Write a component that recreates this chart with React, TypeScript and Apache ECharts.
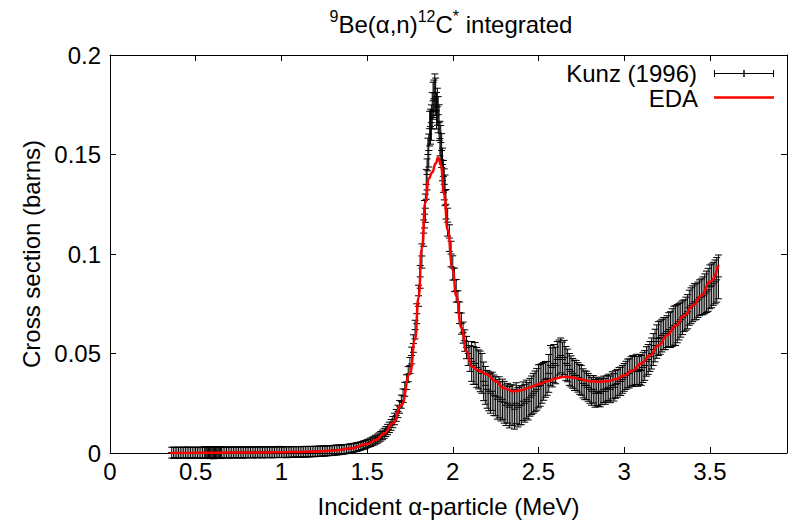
import React, { useEffect, useRef } from "react";
import * as echarts from "echarts";

const FONT = '"Liberation Sans", Arial, Helvetica, sans-serif';

// Kunz (1996) — low-energy part (MeV, barns, barns)
const lowE = [0.36, 0.37, 0.38, 0.39, 0.40, 0.41, 0.42, 0.43, 0.44, 0.45,
  0.46, 0.47, 0.48, 0.49, 0.50, 0.51, 0.52, 0.53, 0.54, 0.55,
  0.56, 0.57, 0.58, 0.59, 0.60, 0.61, 0.62, 0.63, 0.64, 0.65,
  0.66, 0.67, 0.68, 0.69, 0.70, 0.71, 0.72, 0.73, 0.74, 0.75,
  0.76, 0.77, 0.78, 0.79, 0.80, 0.81, 0.82, 0.83, 0.84, 0.85,
  0.86, 0.87, 0.88, 0.89, 0.90, 0.91, 0.92, 0.93, 0.94, 0.95,
  0.96, 0.97, 0.98, 0.99,
  1.00, 1.01, 1.02, 1.03, 1.04, 1.05, 1.06, 1.07, 1.08, 1.09,
  1.10, 1.11, 1.12, 1.13, 1.14, 1.15, 1.16, 1.17, 1.18, 1.19,
  1.20, 1.21, 1.22, 1.23, 1.24, 1.25, 1.26, 1.27, 1.28, 1.29,
  1.30, 1.31, 1.32, 1.33, 1.34, 1.35, 1.36, 1.37, 1.38, 1.39,
  1.40, 1.41, 1.42, 1.43, 1.44, 1.45, 1.46, 1.47, 1.48, 1.49];
const lowSigma = [0.0002, 0.0001, 0.0002, 0.0001, 0.0002, 0.0001, 0.0002, 0.0002, 0.0001, 0.0002,
  0.0002, 0.0001, 0.0002, 0.0002, 0.0001, 0.0002, 0.0001, 0.0002, 0.0001, 0.0002,
  0.0002, 0.0003, 0.0002, 0.0001, 0.0003, 0.0002, 0.0002, 0.0003, 0.0002, 0.0002,
  0.0002, 0.0003, 0.0002, 0.0003, 0.0002, 0.0003, 0.0003, 0.0002, 0.0003, 0.0003,
  0.0003, 0.0002, 0.0003, 0.0003, 0.0003, 0.0003, 0.0004, 0.0003, 0.0003, 0.0004,
  0.0003, 0.0004, 0.0004, 0.0003, 0.0004, 0.0004, 0.0004, 0.0004, 0.0003, 0.0004,
  0.0004, 0.0004, 0.0004, 0.0005,
  0.0004, 0.0004, 0.0005, 0.0004, 0.0005, 0.0005, 0.0005, 0.0006, 0.0005, 0.0006,
  0.0005, 0.0006, 0.0006, 0.0006, 0.0007, 0.0006, 0.0007, 0.0007, 0.0008, 0.0007,
  0.0008, 0.0008, 0.0009, 0.0009, 0.0010, 0.0010, 0.0011, 0.0011, 0.0012, 0.0012,
  0.0013, 0.0014, 0.0015, 0.0015, 0.0016, 0.0017, 0.0018, 0.0019, 0.0020, 0.0021,
  0.0023, 0.0024, 0.0026, 0.0028, 0.0030, 0.0032, 0.0034, 0.0037, 0.0040, 0.0043];
const lowErr = [0.0027, 0.0028, 0.0026, 0.0027, 0.0028, 0.0027, 0.0026, 0.0028, 0.0027, 0.0028,
  0.0027, 0.0028, 0.0026, 0.0027, 0.0028, 0.0027, 0.0026, 0.0028, 0.0027, 0.0029,
  0.0027, 0.0028, 0.0026, 0.0029, 0.0028, 0.0027, 0.0029, 0.0028, 0.0027, 0.0028,
  0.0027, 0.0028, 0.0027, 0.0026, 0.0028, 0.0027, 0.0028, 0.0027, 0.0026, 0.0028,
  0.0027, 0.0028, 0.0027, 0.0028, 0.0027, 0.0026, 0.0027, 0.0028, 0.0027, 0.0026,
  0.0028, 0.0027, 0.0026, 0.0028, 0.0027, 0.0028, 0.0027, 0.0026, 0.0027, 0.0028,
  0.0027, 0.0026, 0.0027, 0.0028,
  0.0027, 0.0026, 0.0027, 0.0028, 0.0027, 0.0026, 0.0027, 0.0026, 0.0027, 0.0026,
  0.0027, 0.0026, 0.0027, 0.0026, 0.0026, 0.0027, 0.0026, 0.0026, 0.0025, 0.0026,
  0.0026, 0.0025, 0.0026, 0.0025, 0.0025, 0.0026, 0.0025, 0.0025, 0.0024, 0.0025,
  0.0025, 0.0024, 0.0025, 0.0024, 0.0024, 0.0023, 0.0024, 0.0023, 0.0023, 0.0022,
  0.0023, 0.0022, 0.0022, 0.0021, 0.0022, 0.0021, 0.0021, 0.0020, 0.0021, 0.0020];

// Kunz (1996) — second, overlapping set of low-energy points
const extraE = [0.555, 0.565, 0.575, 0.585, 0.595, 0.605, 0.615, 0.625, 0.635, 0.645];
const extraSigma = [0.0003, 0.0001, 0.0002, 0.0003, 0.0002, 0.0001, 0.0003, 0.0002, 0.0003, 0.0002];
const extraErr = [0.0029, 0.0028, 0.0030, 0.0029, 0.0028, 0.0030, 0.0029, 0.0028, 0.0029, 0.0030];

// Kunz (1996) — resonance region
const peakE = [1.50, 1.51, 1.52, 1.53, 1.54, 1.55, 1.56, 1.57, 1.58, 1.59,
  1.60, 1.61, 1.62, 1.63, 1.64, 1.65, 1.66, 1.67, 1.68, 1.69,
  1.70, 1.71, 1.72, 1.73, 1.74, 1.75, 1.76, 1.77, 1.78, 1.79,
  1.80, 1.81, 1.82, 1.83, 1.835, 1.84, 1.845, 1.85, 1.855, 1.86, 1.865, 1.87, 1.875, 1.88, 1.885, 1.89, 1.895,
  1.90, 1.905, 1.91, 1.915, 1.92, 1.925, 1.93, 1.935, 1.94, 1.945, 1.95, 1.955, 1.96, 1.97, 1.98, 1.99,
  2.00, 2.01, 2.02, 2.03, 2.04, 2.05, 2.06, 2.07, 2.08, 2.09, 2.10];
const peakSigma = [0.0047, 0.0050, 0.0054, 0.0058, 0.0062, 0.0067, 0.0072, 0.0078, 0.0084, 0.0091,
  0.0099, 0.0108, 0.0118, 0.0129, 0.0141, 0.0155, 0.0171, 0.0189, 0.0209, 0.0232,
  0.0258, 0.0288, 0.0320, 0.0356, 0.0396, 0.0440, 0.0490, 0.0550, 0.0620, 0.0700,
  0.0790, 0.0885, 0.0990, 0.1105, 0.1200, 0.1230, 0.1350, 0.1400, 0.1500, 0.1520, 0.1630, 0.1640, 0.1660, 0.1720, 0.1770, 0.1780, 0.1810,
  0.1790, 0.1720, 0.1740, 0.1700, 0.1660, 0.1580, 0.1560, 0.1520, 0.1450, 0.1390, 0.1350, 0.1320, 0.1250, 0.1160, 0.1080, 0.1000,
  0.0930, 0.0870, 0.0815, 0.0760, 0.0705, 0.0650, 0.0605, 0.0565, 0.0530, 0.0500, 0.0475];
const peakErr = [0.0020, 0.0020, 0.0021, 0.0021, 0.0022, 0.0022, 0.0023, 0.0023, 0.0024, 0.0024,
  0.0025, 0.0025, 0.0026, 0.0026, 0.0027, 0.0028, 0.0029, 0.0030, 0.0031, 0.0032,
  0.0033, 0.0034, 0.0035, 0.0037, 0.0038, 0.0040, 0.0042, 0.0044, 0.0047, 0.0050,
  0.0053, 0.0057, 0.0061, 0.0066, 0.0069, 0.0071, 0.0075, 0.0078, 0.0082, 0.0083, 0.0087, 0.0088, 0.0089, 0.0091, 0.0093, 0.0094, 0.0095,
  0.0094, 0.0092, 0.0093, 0.0091, 0.0090, 0.0087, 0.0086, 0.0085, 0.0082, 0.0080, 0.0078, 0.0077, 0.0074, 0.0070, 0.0067, 0.0064,
  0.0061, 0.0059, 0.0057, 0.0055, 0.0054, 0.0053, 0.0053, 0.0054, 0.0056, 0.0060, 0.0065];

// Kunz (1996) — high-energy tail
const tailE = [2.11, 2.12, 2.13, 2.14, 2.15, 2.16, 2.17, 2.18, 2.19,
  2.20, 2.21, 2.22, 2.23, 2.24, 2.25, 2.26, 2.27, 2.28, 2.29,
  2.30, 2.31, 2.32, 2.33, 2.34, 2.35, 2.36, 2.37, 2.38, 2.39,
  2.40, 2.41, 2.42, 2.43, 2.44, 2.45, 2.46, 2.47, 2.48, 2.49,
  2.50, 2.51, 2.52, 2.53, 2.54, 2.55, 2.56, 2.57, 2.58, 2.59,
  2.60, 2.61, 2.62, 2.63, 2.64, 2.65, 2.66, 2.67, 2.68, 2.69,
  2.70, 2.71, 2.72, 2.73, 2.74, 2.75, 2.76, 2.77, 2.78, 2.79,
  2.80, 2.81, 2.82, 2.83, 2.84, 2.85, 2.86, 2.87, 2.88, 2.89,
  2.90, 2.91, 2.92, 2.93, 2.94, 2.95, 2.96, 2.97, 2.98, 2.99,
  3.00, 3.01, 3.02, 3.03, 3.04, 3.05, 3.06, 3.07, 3.08, 3.09,
  3.10, 3.11, 3.12, 3.13, 3.14, 3.15, 3.16, 3.17, 3.18, 3.19,
  3.20, 3.21, 3.22, 3.23, 3.24, 3.25, 3.26, 3.27, 3.28, 3.29,
  3.30, 3.31, 3.32, 3.33, 3.34, 3.35, 3.36, 3.37, 3.38, 3.39,
  3.40, 3.41, 3.42, 3.43, 3.44, 3.45, 3.46, 3.47, 3.48, 3.49,
  3.50, 3.51, 3.52, 3.53, 3.54, 3.55];
const tailSigma = [0.046, 0.044, 0.045, 0.043, 0.042, 0.041, 0.040, 0.036, 0.034,
  0.032, 0.031, 0.030, 0.031, 0.029, 0.0285, 0.027, 0.028, 0.026, 0.027,
  0.0255, 0.024, 0.025, 0.023, 0.024, 0.024, 0.022, 0.025, 0.023, 0.024,
  0.024, 0.026, 0.025, 0.027, 0.026, 0.028, 0.029, 0.030, 0.031, 0.032,
  0.0335, 0.034, 0.035, 0.036, 0.037, 0.0375, 0.040, 0.044, 0.043, 0.045,
  0.044, 0.047, 0.048, 0.049, 0.047, 0.048, 0.045, 0.044, 0.042, 0.041,
  0.040, 0.039, 0.039, 0.038, 0.037, 0.0365, 0.035, 0.034, 0.034, 0.033,
  0.032, 0.031, 0.032, 0.030, 0.031, 0.0305, 0.030, 0.031, 0.032, 0.031,
  0.0325, 0.033, 0.032, 0.034, 0.033, 0.0345, 0.035, 0.036, 0.036, 0.037,
  0.038, 0.039, 0.040, 0.040, 0.041, 0.0415, 0.041, 0.042, 0.041, 0.042,
  0.0415, 0.043, 0.044, 0.046, 0.047, 0.0485, 0.050, 0.052, 0.054, 0.056,
  0.0575, 0.058, 0.059, 0.060, 0.060, 0.061, 0.062, 0.062, 0.063, 0.064,
  0.064, 0.065, 0.066, 0.067, 0.068, 0.069, 0.070, 0.071, 0.073, 0.074,
  0.075, 0.076, 0.076, 0.077, 0.078, 0.0785, 0.079, 0.080, 0.081, 0.082,
  0.0835, 0.084, 0.085, 0.086, 0.087, 0.0885];
const tailErr = [0.0100, 0.0095, 0.0105, 0.0100, 0.0098, 0.0102, 0.0100, 0.0097, 0.0095,
  0.0095, 0.0098, 0.0100, 0.0096, 0.0102, 0.0098, 0.0100, 0.0103, 0.0099, 0.0101,
  0.0105, 0.0102, 0.0100, 0.0104, 0.0103, 0.0101, 0.0100, 0.0103, 0.0099, 0.0098,
  0.0098, 0.0097, 0.0095, 0.0096, 0.0094, 0.0095, 0.0097, 0.0100, 0.0102, 0.0105,
  0.0108, 0.0105, 0.0100, 0.0095, 0.0090, 0.0085, 0.0095, 0.0100, 0.0098, 0.0095,
  0.0092, 0.0090, 0.0088, 0.0088, 0.0087, 0.0086, 0.0085, 0.0082, 0.0080, 0.0078,
  0.0075, 0.0076, 0.0075, 0.0074, 0.0075, 0.0075, 0.0073, 0.0072, 0.0071, 0.0070,
  0.0070, 0.0070, 0.0069, 0.0070, 0.0071, 0.0070, 0.0068, 0.0067, 0.0066, 0.0065,
  0.0065, 0.0066, 0.0067, 0.0068, 0.0069, 0.0070, 0.0070, 0.0070, 0.0071, 0.0070,
  0.0070, 0.0071, 0.0072, 0.0073, 0.0074, 0.0075, 0.0075, 0.0076, 0.0075, 0.0075,
  0.0075, 0.0076, 0.0075, 0.0074, 0.0075, 0.0075, 0.0078, 0.0080, 0.0082, 0.0084,
  0.0085, 0.0084, 0.0082, 0.0080, 0.0081, 0.0080, 0.0085, 0.0090, 0.0095, 0.0098,
  0.0100, 0.0096, 0.0092, 0.0088, 0.0085, 0.0080, 0.0083, 0.0086, 0.0088, 0.0090,
  0.0090, 0.0091, 0.0090, 0.0089, 0.0090, 0.0090, 0.0095, 0.0100, 0.0104, 0.0108,
  0.0110, 0.0110, 0.0108, 0.0110, 0.0112, 0.0110];

// EDA fit curve
const edaE = [0.35, 0.5, 0.7, 0.9, 1.0, 1.1, 1.2, 1.3, 1.4, 1.5,
  1.55, 1.6, 1.65, 1.7, 1.75, 1.78, 1.8, 1.82, 1.84, 1.86,
  1.88, 1.9, 1.915, 1.93, 1.95, 1.97, 2.0, 2.02, 2.05, 2.08,
  2.11, 2.15, 2.2, 2.25, 2.3, 2.35, 2.4, 2.45, 2.5, 2.55,
  2.6, 2.65, 2.7, 2.75, 2.8, 2.85, 2.9, 2.95, 3.0, 3.05,
  3.1, 3.15, 3.2, 3.25, 3.3, 3.35, 3.4, 3.45, 3.5, 3.55];
const edaSigma = [0.0000, 0.0001, 0.0002, 0.0003, 0.0004, 0.0005, 0.0007, 0.0012, 0.0022, 0.0045,
  0.0065, 0.0098, 0.015, 0.024, 0.040, 0.057, 0.078, 0.103, 0.126, 0.138,
  0.141, 0.1455, 0.1485, 0.145, 0.130, 0.112, 0.092, 0.079, 0.063, 0.051,
  0.0435, 0.0415, 0.0395, 0.036, 0.0325, 0.031, 0.0315, 0.033, 0.0345, 0.036,
  0.0375, 0.0383, 0.038, 0.037, 0.036, 0.0358, 0.036, 0.037, 0.039, 0.0415,
  0.045, 0.049, 0.054, 0.059, 0.064, 0.069, 0.074, 0.079, 0.086, 0.0945];

const xTicksMax = 3.95;

function buildKunz() {
  const out: number[][] = [];
  const add = (e: number[], s: number[], d: number[]) => {
    for (let i = 0; i < e.length; i++) out.push([e[i], s[i], d[i]]);
  };
  add(lowE, lowSigma, lowErr);
  add(extraE, extraSigma, extraErr);
  add(peakE, peakSigma, peakErr);
  add(tailE, tailSigma, tailErr);
  return out;
}

export default function App() {
  const ref = useRef<HTMLDivElement>(null);
  useEffect(() => {
    if (!ref.current) return;
    const chart = echarts.init(ref.current, undefined, { renderer: "svg" });
    const kunz = buildKunz();
    const eda = edaE.map((e, i) => [e, edaSigma[i]]);
    const axisCommon = {
      axisLine: { show: true, onZero: false, lineStyle: { color: "#000", width: 1 } },
      axisTick: { show: true, inside: true, length: 6, lineStyle: { color: "#000", width: 1 } },
      splitLine: { show: false },
    };
    const fmt = (v: number) => String(+v.toFixed(3));
    chart.setOption({
      animation: false,
      backgroundColor: "#fff",
      grid: { left: 110, right: 7, top: 55, bottom: 68, containLabel: false },
      xAxis: [
        {
          type: "value", min: 0, max: xTicksMax, interval: 0.5, position: "bottom",
          ...axisCommon,
          axisLabel: {
            color: "#000", fontSize: 24, fontFamily: FONT, margin: 6, showMaxLabel: false,
            formatter: (v: number) => (v > 3.9 ? "" : fmt(v)),
          },
          name: "Incident α-particle (MeV)", nameLocation: "middle", nameGap: 41,
          nameTextStyle: { color: "#000", fontSize: 24, fontFamily: FONT },
        },
        {
          type: "value", min: 0, max: xTicksMax, interval: 0.5, position: "top",
          ...axisCommon, axisLabel: { show: false },
        },
      ],
      yAxis: [
        {
          type: "value", min: 0, max: 0.2, interval: 0.05, position: "left",
          ...axisCommon,
          axisLabel: { color: "#000", fontSize: 24, fontFamily: FONT, margin: 9, formatter: fmt },
          name: "Cross section (barns)", nameLocation: "middle", nameGap: 58,
          nameTextStyle: { color: "#000", fontSize: 24, fontFamily: FONT },
        },
        {
          type: "value", min: 0, max: 0.2, interval: 0.05, position: "right",
          ...axisCommon, axisLabel: { show: false },
        },
      ],
      series: [
        {
          type: "custom",
          name: "Kunz (1996)",
          xAxisIndex: 0,
          yAxisIndex: 0,
          z: 2,
          data: kunz,
          encode: { x: 0, y: 1 },
          renderItem: (params: any, api: any) => {
            const x = api.value(0);
            const y = api.value(1);
            const e = api.value(2);
            const c = api.coord([x, y]);
            const t = api.coord([x, y + e]);
            const b = api.coord([x, y - e]);
            const cap = 3.5;
            const ps = 3.5;
            const st = { stroke: "#000", lineWidth: 1 };
            return {
              type: "group",
              children: [
                { type: "line", shape: { x1: c[0], y1: t[1], x2: c[0], y2: b[1] }, style: st },
                { type: "line", shape: { x1: c[0] - cap, y1: t[1], x2: c[0] + cap, y2: t[1] }, style: st },
                { type: "line", shape: { x1: c[0] - cap, y1: b[1], x2: c[0] + cap, y2: b[1] }, style: st },
                { type: "line", shape: { x1: c[0] - ps, y1: c[1], x2: c[0] + ps, y2: c[1] }, style: st },
              ],
            };
          },
        },
        {
          type: "line",
          name: "EDA",
          xAxisIndex: 0,
          yAxisIndex: 0,
          z: 3,
          data: eda,
          showSymbol: false,
          symbol: "none",
          smooth: 0.5,
          smoothMonotone: "x",
          lineStyle: { color: "#ff0000", width: 2.5 },
        },
      ],
      graphic: [
        {
          type: "text", x: 451, y: 8, z: 10,
          style: {
            text: "{s|9}{b|Be(α,n)}{s|12}{b|C}{s|*}{b| integrated}",
            align: "center", verticalAlign: "top", fill: "#000",
            rich: {
              b: { fontSize: 24, fontFamily: FONT, lineHeight: 28, verticalAlign: "bottom", fill: "#000" },
              s: { fontSize: 16, fontFamily: FONT, lineHeight: 16, verticalAlign: "top", fill: "#000" },
            },
          },
        },
        {
          type: "text", x: 697, y: 73, z: 10,
          style: { text: "Kunz (1996)", align: "right", verticalAlign: "middle", fontSize: 24, fontFamily: FONT, fill: "#000" },
        },
        { type: "line", z: 10, shape: { x1: 714, y1: 73.5, x2: 774, y2: 73.5 }, style: { stroke: "#000", lineWidth: 1 } },
        { type: "line", z: 10, shape: { x1: 714.5, y1: 70, x2: 714.5, y2: 77 }, style: { stroke: "#000", lineWidth: 1 } },
        { type: "line", z: 10, shape: { x1: 773.5, y1: 70, x2: 773.5, y2: 77 }, style: { stroke: "#000", lineWidth: 1 } },
        { type: "line", z: 10, shape: { x1: 744, y1: 70, x2: 744, y2: 77 }, style: { stroke: "#000", lineWidth: 1.5 } },
        {
          type: "text", x: 698, y: 98, z: 10,
          style: { text: "EDA", align: "right", verticalAlign: "middle", fontSize: 24, fontFamily: FONT, fill: "#000" },
        },
        { type: "line", z: 10, shape: { x1: 714, y1: 97.5, x2: 774, y2: 97.5 }, style: { stroke: "#ff0000", lineWidth: 2.5 } },
      ],
    });
    return () => chart.dispose();
  }, []);
  return <div ref={ref} style={{ position: "absolute", left: 0, top: 0, width: 794, height: 523 }} />;
}
